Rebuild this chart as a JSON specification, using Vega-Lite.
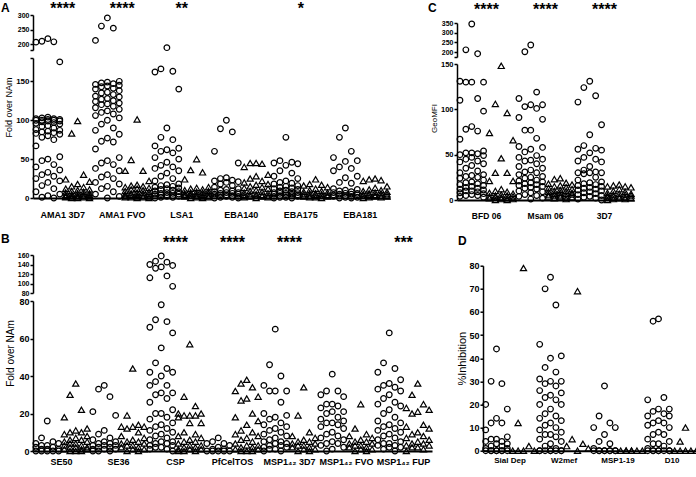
{
"$schema":"https://vega.github.io/schema/vega-lite/v6.json",
"background":"white",
"padding":{"left":1,"top":0,"right":0,"bottom":0},
"config":{
 "view":{"stroke":null},
 "font":"Liberation Sans",
 "axis":{"grid":false,"domainColor":"black","tickColor":"black","labelColor":"black","titleColor":"black","labelFont":"Liberation Sans","titleFont":"Liberation Sans","labelFontWeight":"bold","titleFontWeight":"normal"},
 "title":{"font":"Liberation Sans","fontSize":12,"fontWeight":"bold","color":"black","anchor":"start","frame":"group","baseline":"alphabetic"},
 "point":{"filled":false,"color":"black","strokeWidth":1.2,"opacity":1},
 "text":{"color":"black","font":"Liberation Sans","fontSize":16,"fontWeight":"bold","baseline":"alphabetic"}
},
"datasets":{
"A":[
{"x":1,"g":"c","v":219},{"x":1,"g":"c","v":210},{"x":1,"g":"c","v":208},{"x":1,"g":"c","v":207},{"x":1,"g":"c","v":175},{"x":1,"g":"c","v":104},{"x":1,"g":"c","v":103},{"x":1,"g":"c","v":102},{"x":1,"g":"c","v":102},{"x":1,"g":"c","v":101},{"x":1,"g":"c","v":101},{"x":1,"g":"c","v":100},{"x":1,"g":"c","v":100},{"x":1,"g":"c","v":100},{"x":1,"g":"c","v":99},{"x":1,"g":"c","v":99},{"x":1,"g":"c","v":98},{"x":1,"g":"c","v":97},{"x":1,"g":"c","v":96},{"x":1,"g":"c","v":95},{"x":1,"g":"c","v":93},{"x":1,"g":"c","v":92},{"x":1,"g":"c","v":90},{"x":1,"g":"c","v":88},{"x":1,"g":"c","v":87},{"x":1,"g":"c","v":86},{"x":1,"g":"c","v":85},{"x":1,"g":"c","v":84},{"x":1,"g":"c","v":83},{"x":1,"g":"c","v":82},{"x":1,"g":"c","v":80},{"x":1,"g":"c","v":78},{"x":1,"g":"c","v":75},{"x":1,"g":"c","v":67},{"x":1,"g":"c","v":53},{"x":1,"g":"c","v":50},{"x":1,"g":"c","v":48},{"x":1,"g":"c","v":43},{"x":1,"g":"c","v":40},{"x":1,"g":"c","v":36},{"x":1,"g":"c","v":33},{"x":1,"g":"c","v":30},{"x":1,"g":"c","v":28},{"x":1,"g":"c","v":25},{"x":1,"g":"c","v":22},{"x":1,"g":"c","v":20},{"x":1,"g":"c","v":16},{"x":1,"g":"c","v":12},{"x":1,"g":"c","v":8},{"x":1,"g":"c","v":5},{"x":1,"g":"c","v":3},{"x":1,"g":"c","v":1},{"x":1,"g":"c","v":0},
{"x":1,"g":"t","v":99},{"x":1,"g":"t","v":83},{"x":1,"g":"t","v":30},{"x":1,"g":"t","v":24},{"x":1,"g":"t","v":21},{"x":1,"g":"t","v":18},{"x":1,"g":"t","v":15},{"x":1,"g":"t","v":14},{"x":1,"g":"t","v":12},{"x":1,"g":"t","v":11},{"x":1,"g":"t","v":10},{"x":1,"g":"t","v":9},{"x":1,"g":"t","v":8},{"x":1,"g":"t","v":7},{"x":1,"g":"t","v":6},{"x":1,"g":"t","v":6},{"x":1,"g":"t","v":5},{"x":1,"g":"t","v":5},{"x":1,"g":"t","v":4},{"x":1,"g":"t","v":4},{"x":1,"g":"t","v":3},{"x":1,"g":"t","v":3},{"x":1,"g":"t","v":3},{"x":1,"g":"t","v":2},{"x":1,"g":"t","v":2},{"x":1,"g":"t","v":2},{"x":1,"g":"t","v":1},{"x":1,"g":"t","v":1},{"x":1,"g":"t","v":1},{"x":1,"g":"t","v":0},{"x":1,"g":"t","v":0},{"x":1,"g":"t","v":0},
{"x":2,"g":"c","v":290},{"x":2,"g":"c","v":262},{"x":2,"g":"c","v":255},{"x":2,"g":"c","v":213},{"x":2,"g":"c","v":150},{"x":2,"g":"c","v":149},{"x":2,"g":"c","v":148},{"x":2,"g":"c","v":147},{"x":2,"g":"c","v":146},{"x":2,"g":"c","v":145},{"x":2,"g":"c","v":144},{"x":2,"g":"c","v":143},{"x":2,"g":"c","v":141},{"x":2,"g":"c","v":140},{"x":2,"g":"c","v":138},{"x":2,"g":"c","v":136},{"x":2,"g":"c","v":135},{"x":2,"g":"c","v":133},{"x":2,"g":"c","v":131},{"x":2,"g":"c","v":130},{"x":2,"g":"c","v":128},{"x":2,"g":"c","v":127},{"x":2,"g":"c","v":125},{"x":2,"g":"c","v":124},{"x":2,"g":"c","v":122},{"x":2,"g":"c","v":121},{"x":2,"g":"c","v":120},{"x":2,"g":"c","v":118},{"x":2,"g":"c","v":116},{"x":2,"g":"c","v":114},{"x":2,"g":"c","v":112},{"x":2,"g":"c","v":110},{"x":2,"g":"c","v":108},{"x":2,"g":"c","v":106},{"x":2,"g":"c","v":103},{"x":2,"g":"c","v":100},{"x":2,"g":"c","v":95},{"x":2,"g":"c","v":90},{"x":2,"g":"c","v":87},{"x":2,"g":"c","v":82},{"x":2,"g":"c","v":77},{"x":2,"g":"c","v":73},{"x":2,"g":"c","v":72},{"x":2,"g":"c","v":63},{"x":2,"g":"c","v":52},{"x":2,"g":"c","v":48},{"x":2,"g":"c","v":45},{"x":2,"g":"c","v":43},{"x":2,"g":"c","v":38},{"x":2,"g":"c","v":35},{"x":2,"g":"c","v":30},{"x":2,"g":"c","v":27},{"x":2,"g":"c","v":25},{"x":2,"g":"c","v":20},{"x":2,"g":"c","v":18},{"x":2,"g":"c","v":15},{"x":2,"g":"c","v":12},{"x":2,"g":"c","v":8},{"x":2,"g":"c","v":5},{"x":2,"g":"c","v":2},{"x":2,"g":"c","v":0},
{"x":2,"g":"t","v":101},{"x":2,"g":"t","v":49},{"x":2,"g":"t","v":35},{"x":2,"g":"t","v":35},{"x":2,"g":"t","v":22},{"x":2,"g":"t","v":17},{"x":2,"g":"t","v":16},{"x":2,"g":"t","v":15},{"x":2,"g":"t","v":14},{"x":2,"g":"t","v":13},{"x":2,"g":"t","v":12},{"x":2,"g":"t","v":11},{"x":2,"g":"t","v":10},{"x":2,"g":"t","v":9},{"x":2,"g":"t","v":8},{"x":2,"g":"t","v":7},{"x":2,"g":"t","v":6},{"x":2,"g":"t","v":6},{"x":2,"g":"t","v":5},{"x":2,"g":"t","v":5},{"x":2,"g":"t","v":4},{"x":2,"g":"t","v":4},{"x":2,"g":"t","v":3},{"x":2,"g":"t","v":3},{"x":2,"g":"t","v":2},{"x":2,"g":"t","v":2},{"x":2,"g":"t","v":1},{"x":2,"g":"t","v":1},{"x":2,"g":"t","v":1},{"x":2,"g":"t","v":0},{"x":2,"g":"t","v":0},
{"x":3,"g":"c","v":188},{"x":3,"g":"c","v":166},{"x":3,"g":"c","v":163},{"x":3,"g":"c","v":162},{"x":3,"g":"c","v":140},{"x":3,"g":"c","v":90},{"x":3,"g":"c","v":78},{"x":3,"g":"c","v":75},{"x":3,"g":"c","v":67},{"x":3,"g":"c","v":64},{"x":3,"g":"c","v":62},{"x":3,"g":"c","v":60},{"x":3,"g":"c","v":58},{"x":3,"g":"c","v":52},{"x":3,"g":"c","v":50},{"x":3,"g":"c","v":46},{"x":3,"g":"c","v":42},{"x":3,"g":"c","v":40},{"x":3,"g":"c","v":38},{"x":3,"g":"c","v":35},{"x":3,"g":"c","v":32},{"x":3,"g":"c","v":28},{"x":3,"g":"c","v":25},{"x":3,"g":"c","v":22},{"x":3,"g":"c","v":18},{"x":3,"g":"c","v":17},{"x":3,"g":"c","v":16},{"x":3,"g":"c","v":15},{"x":3,"g":"c","v":14},{"x":3,"g":"c","v":13},{"x":3,"g":"c","v":12},{"x":3,"g":"c","v":11},{"x":3,"g":"c","v":10},{"x":3,"g":"c","v":9},{"x":3,"g":"c","v":8},{"x":3,"g":"c","v":7},{"x":3,"g":"c","v":6},{"x":3,"g":"c","v":6},{"x":3,"g":"c","v":5},{"x":3,"g":"c","v":5},{"x":3,"g":"c","v":4},{"x":3,"g":"c","v":4},{"x":3,"g":"c","v":3},{"x":3,"g":"c","v":3},{"x":3,"g":"c","v":2},{"x":3,"g":"c","v":2},{"x":3,"g":"c","v":1},{"x":3,"g":"c","v":1},{"x":3,"g":"c","v":0},
{"x":3,"g":"t","v":50},{"x":3,"g":"t","v":36},{"x":3,"g":"t","v":33},{"x":3,"g":"t","v":24},{"x":3,"g":"t","v":14},{"x":3,"g":"t","v":13},{"x":3,"g":"t","v":12},{"x":3,"g":"t","v":11},{"x":3,"g":"t","v":10},{"x":3,"g":"t","v":9},{"x":3,"g":"t","v":8},{"x":3,"g":"t","v":7},{"x":3,"g":"t","v":7},{"x":3,"g":"t","v":6},{"x":3,"g":"t","v":6},{"x":3,"g":"t","v":5},{"x":3,"g":"t","v":5},{"x":3,"g":"t","v":4},{"x":3,"g":"t","v":4},{"x":3,"g":"t","v":3},{"x":3,"g":"t","v":3},{"x":3,"g":"t","v":3},{"x":3,"g":"t","v":2},{"x":3,"g":"t","v":2},{"x":3,"g":"t","v":1},{"x":3,"g":"t","v":1},{"x":3,"g":"t","v":0},{"x":3,"g":"t","v":0},
{"x":4,"g":"c","v":100},{"x":4,"g":"c","v":89},{"x":4,"g":"c","v":85},{"x":4,"g":"c","v":60},{"x":4,"g":"c","v":45},{"x":4,"g":"c","v":26},{"x":4,"g":"c","v":25},{"x":4,"g":"c","v":23},{"x":4,"g":"c","v":22},{"x":4,"g":"c","v":21},{"x":4,"g":"c","v":20},{"x":4,"g":"c","v":18},{"x":4,"g":"c","v":16},{"x":4,"g":"c","v":14},{"x":4,"g":"c","v":12},{"x":4,"g":"c","v":11},{"x":4,"g":"c","v":10},{"x":4,"g":"c","v":9},{"x":4,"g":"c","v":8},{"x":4,"g":"c","v":7},{"x":4,"g":"c","v":7},{"x":4,"g":"c","v":6},{"x":4,"g":"c","v":6},{"x":4,"g":"c","v":5},{"x":4,"g":"c","v":5},{"x":4,"g":"c","v":4},{"x":4,"g":"c","v":4},{"x":4,"g":"c","v":3},{"x":4,"g":"c","v":3},{"x":4,"g":"c","v":2},{"x":4,"g":"c","v":2},{"x":4,"g":"c","v":1},{"x":4,"g":"c","v":1},{"x":4,"g":"c","v":0},{"x":4,"g":"c","v":0},
{"x":4,"g":"t","v":45},{"x":4,"g":"t","v":45},{"x":4,"g":"t","v":44},{"x":4,"g":"t","v":40},{"x":4,"g":"t","v":30},{"x":4,"g":"t","v":28},{"x":4,"g":"t","v":25},{"x":4,"g":"t","v":22},{"x":4,"g":"t","v":20},{"x":4,"g":"t","v":18},{"x":4,"g":"t","v":17},{"x":4,"g":"t","v":15},{"x":4,"g":"t","v":14},{"x":4,"g":"t","v":13},{"x":4,"g":"t","v":12},{"x":4,"g":"t","v":10},{"x":4,"g":"t","v":9},{"x":4,"g":"t","v":8},{"x":4,"g":"t","v":7},{"x":4,"g":"t","v":6},{"x":4,"g":"t","v":5},{"x":4,"g":"t","v":5},{"x":4,"g":"t","v":4},{"x":4,"g":"t","v":4},{"x":4,"g":"t","v":3},{"x":4,"g":"t","v":3},{"x":4,"g":"t","v":2},{"x":4,"g":"t","v":2},{"x":4,"g":"t","v":1},{"x":4,"g":"t","v":1},{"x":4,"g":"t","v":0},
{"x":5,"g":"c","v":78},{"x":5,"g":"c","v":48},{"x":5,"g":"c","v":46},{"x":5,"g":"c","v":45},{"x":5,"g":"c","v":44},{"x":5,"g":"c","v":42},{"x":5,"g":"c","v":35},{"x":5,"g":"c","v":32},{"x":5,"g":"c","v":28},{"x":5,"g":"c","v":25},{"x":5,"g":"c","v":22},{"x":5,"g":"c","v":20},{"x":5,"g":"c","v":19},{"x":5,"g":"c","v":18},{"x":5,"g":"c","v":16},{"x":5,"g":"c","v":15},{"x":5,"g":"c","v":14},{"x":5,"g":"c","v":13},{"x":5,"g":"c","v":12},{"x":5,"g":"c","v":11},{"x":5,"g":"c","v":10},{"x":5,"g":"c","v":9},{"x":5,"g":"c","v":8},{"x":5,"g":"c","v":7},{"x":5,"g":"c","v":7},{"x":5,"g":"c","v":6},{"x":5,"g":"c","v":6},{"x":5,"g":"c","v":5},{"x":5,"g":"c","v":5},{"x":5,"g":"c","v":4},{"x":5,"g":"c","v":4},{"x":5,"g":"c","v":3},{"x":5,"g":"c","v":3},{"x":5,"g":"c","v":2},{"x":5,"g":"c","v":2},{"x":5,"g":"c","v":1},{"x":5,"g":"c","v":1},{"x":5,"g":"c","v":0},{"x":5,"g":"c","v":0},
{"x":5,"g":"t","v":24},{"x":5,"g":"t","v":18},{"x":5,"g":"t","v":17},{"x":5,"g":"t","v":16},{"x":5,"g":"t","v":14},{"x":5,"g":"t","v":12},{"x":5,"g":"t","v":10},{"x":5,"g":"t","v":9},{"x":5,"g":"t","v":8},{"x":5,"g":"t","v":7},{"x":5,"g":"t","v":6},{"x":5,"g":"t","v":6},{"x":5,"g":"t","v":5},{"x":5,"g":"t","v":5},{"x":5,"g":"t","v":4},{"x":5,"g":"t","v":4},{"x":5,"g":"t","v":3},{"x":5,"g":"t","v":3},{"x":5,"g":"t","v":2},{"x":5,"g":"t","v":2},{"x":5,"g":"t","v":1},{"x":5,"g":"t","v":1},{"x":5,"g":"t","v":0},
{"x":6,"g":"c","v":90},{"x":6,"g":"c","v":78},{"x":6,"g":"c","v":60},{"x":6,"g":"c","v":52},{"x":6,"g":"c","v":48},{"x":6,"g":"c","v":47},{"x":6,"g":"c","v":40},{"x":6,"g":"c","v":38},{"x":6,"g":"c","v":35},{"x":6,"g":"c","v":28},{"x":6,"g":"c","v":26},{"x":6,"g":"c","v":20},{"x":6,"g":"c","v":19},{"x":6,"g":"c","v":12},{"x":6,"g":"c","v":11},{"x":6,"g":"c","v":10},{"x":6,"g":"c","v":9},{"x":6,"g":"c","v":8},{"x":6,"g":"c","v":7},{"x":6,"g":"c","v":6},{"x":6,"g":"c","v":6},{"x":6,"g":"c","v":5},{"x":6,"g":"c","v":5},{"x":6,"g":"c","v":4},{"x":6,"g":"c","v":4},{"x":6,"g":"c","v":3},{"x":6,"g":"c","v":3},{"x":6,"g":"c","v":2},{"x":6,"g":"c","v":2},{"x":6,"g":"c","v":1},{"x":6,"g":"c","v":1},{"x":6,"g":"c","v":0},{"x":6,"g":"c","v":0},
{"x":6,"g":"t","v":25},{"x":6,"g":"t","v":24},{"x":6,"g":"t","v":23},{"x":6,"g":"t","v":22},{"x":6,"g":"t","v":15},{"x":6,"g":"t","v":13},{"x":6,"g":"t","v":11},{"x":6,"g":"t","v":10},{"x":6,"g":"t","v":9},{"x":6,"g":"t","v":8},{"x":6,"g":"t","v":7},{"x":6,"g":"t","v":6},{"x":6,"g":"t","v":6},{"x":6,"g":"t","v":5},{"x":6,"g":"t","v":5},{"x":6,"g":"t","v":4},{"x":6,"g":"t","v":4},{"x":6,"g":"t","v":3},{"x":6,"g":"t","v":3},{"x":6,"g":"t","v":2},{"x":6,"g":"t","v":2},{"x":6,"g":"t","v":1},{"x":6,"g":"t","v":1},{"x":6,"g":"t","v":0}
],
"B":[
{"x":1,"g":"c","v":16},{"x":1,"g":"c","v":7},{"x":1,"g":"c","v":5},{"x":1,"g":"c","v":4},{"x":1,"g":"c","v":4},{"x":1,"g":"c","v":3},{"x":1,"g":"c","v":3},{"x":1,"g":"c","v":2},{"x":1,"g":"c","v":2},{"x":1,"g":"c","v":1},{"x":1,"g":"c","v":1},{"x":1,"g":"c","v":1},{"x":1,"g":"c","v":0},{"x":1,"g":"c","v":0},{"x":1,"g":"c","v":0},{"x":1,"g":"c","v":0},{"x":1,"g":"c","v":0},
{"x":1,"g":"t","v":36},{"x":1,"g":"t","v":30},{"x":1,"g":"t","v":22},{"x":1,"g":"t","v":18},{"x":1,"g":"t","v":12},{"x":1,"g":"t","v":11},{"x":1,"g":"t","v":10},{"x":1,"g":"t","v":10},{"x":1,"g":"t","v":9},{"x":1,"g":"t","v":8},{"x":1,"g":"t","v":7},{"x":1,"g":"t","v":6},{"x":1,"g":"t","v":6},{"x":1,"g":"t","v":5},{"x":1,"g":"t","v":5},{"x":1,"g":"t","v":4},{"x":1,"g":"t","v":4},{"x":1,"g":"t","v":3},{"x":1,"g":"t","v":3},{"x":1,"g":"t","v":2},{"x":1,"g":"t","v":2},{"x":1,"g":"t","v":2},{"x":1,"g":"t","v":1},{"x":1,"g":"t","v":1},{"x":1,"g":"t","v":1},{"x":1,"g":"t","v":0},{"x":1,"g":"t","v":0},{"x":1,"g":"t","v":0},
{"x":2,"g":"c","v":35},{"x":2,"g":"c","v":33},{"x":2,"g":"c","v":29},{"x":2,"g":"c","v":21},{"x":2,"g":"c","v":19},{"x":2,"g":"c","v":11},{"x":2,"g":"c","v":9},{"x":2,"g":"c","v":7},{"x":2,"g":"c","v":6},{"x":2,"g":"c","v":5},{"x":2,"g":"c","v":5},{"x":2,"g":"c","v":4},{"x":2,"g":"c","v":4},{"x":2,"g":"c","v":3},{"x":2,"g":"c","v":3},{"x":2,"g":"c","v":3},{"x":2,"g":"c","v":2},{"x":2,"g":"c","v":2},{"x":2,"g":"c","v":1},{"x":2,"g":"c","v":1},{"x":2,"g":"c","v":1},{"x":2,"g":"c","v":0},{"x":2,"g":"c","v":0},{"x":2,"g":"c","v":0},
{"x":2,"g":"t","v":44},{"x":2,"g":"t","v":19},{"x":2,"g":"t","v":14},{"x":2,"g":"t","v":13},{"x":2,"g":"t","v":13},{"x":2,"g":"t","v":13},{"x":2,"g":"t","v":12},{"x":2,"g":"t","v":10},{"x":2,"g":"t","v":8},{"x":2,"g":"t","v":7},{"x":2,"g":"t","v":6},{"x":2,"g":"t","v":5},{"x":2,"g":"t","v":5},{"x":2,"g":"t","v":4},{"x":2,"g":"t","v":4},{"x":2,"g":"t","v":3},{"x":2,"g":"t","v":3},{"x":2,"g":"t","v":2},{"x":2,"g":"t","v":2},{"x":2,"g":"t","v":1},{"x":2,"g":"t","v":1},{"x":2,"g":"t","v":0},{"x":2,"g":"t","v":0},
{"x":3,"g":"c","v":158},{"x":3,"g":"c","v":147},{"x":3,"g":"c","v":145},{"x":3,"g":"c","v":140},{"x":3,"g":"c","v":138},{"x":3,"g":"c","v":135},{"x":3,"g":"c","v":132},{"x":3,"g":"c","v":116},{"x":3,"g":"c","v":112},{"x":3,"g":"c","v":94},{"x":3,"g":"c","v":78},{"x":3,"g":"c","v":70},{"x":3,"g":"c","v":69},{"x":3,"g":"c","v":66},{"x":3,"g":"c","v":63},{"x":3,"g":"c","v":55},{"x":3,"g":"c","v":47},{"x":3,"g":"c","v":44},{"x":3,"g":"c","v":42},{"x":3,"g":"c","v":42},{"x":3,"g":"c","v":40},{"x":3,"g":"c","v":37},{"x":3,"g":"c","v":35},{"x":3,"g":"c","v":35},{"x":3,"g":"c","v":31},{"x":3,"g":"c","v":31},{"x":3,"g":"c","v":30},{"x":3,"g":"c","v":28},{"x":3,"g":"c","v":26},{"x":3,"g":"c","v":22},{"x":3,"g":"c","v":20},{"x":3,"g":"c","v":20},{"x":3,"g":"c","v":18},{"x":3,"g":"c","v":17},{"x":3,"g":"c","v":15},{"x":3,"g":"c","v":14},{"x":3,"g":"c","v":13},{"x":3,"g":"c","v":12},{"x":3,"g":"c","v":11},{"x":3,"g":"c","v":10},{"x":3,"g":"c","v":9},{"x":3,"g":"c","v":8},{"x":3,"g":"c","v":7},{"x":3,"g":"c","v":6},{"x":3,"g":"c","v":5},{"x":3,"g":"c","v":5},{"x":3,"g":"c","v":4},{"x":3,"g":"c","v":4},{"x":3,"g":"c","v":3},{"x":3,"g":"c","v":3},{"x":3,"g":"c","v":2},{"x":3,"g":"c","v":2},{"x":3,"g":"c","v":1},{"x":3,"g":"c","v":1},{"x":3,"g":"c","v":0},
{"x":3,"g":"t","v":57},{"x":3,"g":"t","v":29},{"x":3,"g":"t","v":24},{"x":3,"g":"t","v":20},{"x":3,"g":"t","v":20},{"x":3,"g":"t","v":19},{"x":3,"g":"t","v":19},{"x":3,"g":"t","v":19},{"x":3,"g":"t","v":18},{"x":3,"g":"t","v":15},{"x":3,"g":"t","v":15},{"x":3,"g":"t","v":10},{"x":3,"g":"t","v":9},{"x":3,"g":"t","v":8},{"x":3,"g":"t","v":7},{"x":3,"g":"t","v":6},{"x":3,"g":"t","v":5},{"x":3,"g":"t","v":5},{"x":3,"g":"t","v":4},{"x":3,"g":"t","v":3},{"x":3,"g":"t","v":3},{"x":3,"g":"t","v":2},{"x":3,"g":"t","v":2},{"x":3,"g":"t","v":1},{"x":3,"g":"t","v":1},{"x":3,"g":"t","v":1},{"x":3,"g":"t","v":0},{"x":3,"g":"t","v":0},{"x":3,"g":"t","v":0},
{"x":4,"g":"c","v":7},{"x":4,"g":"c","v":5},{"x":4,"g":"c","v":4},{"x":4,"g":"c","v":4},{"x":4,"g":"c","v":3},{"x":4,"g":"c","v":2},{"x":4,"g":"c","v":1},{"x":4,"g":"c","v":1},{"x":4,"g":"c","v":0},{"x":4,"g":"c","v":0},{"x":4,"g":"c","v":0},{"x":4,"g":"c","v":0},{"x":4,"g":"c","v":0},
{"x":4,"g":"t","v":38},{"x":4,"g":"t","v":36},{"x":4,"g":"t","v":34},{"x":4,"g":"t","v":32},{"x":4,"g":"t","v":29},{"x":4,"g":"t","v":28},{"x":4,"g":"t","v":27},{"x":4,"g":"t","v":20},{"x":4,"g":"t","v":18},{"x":4,"g":"t","v":16},{"x":4,"g":"t","v":14},{"x":4,"g":"t","v":11},{"x":4,"g":"t","v":10},{"x":4,"g":"t","v":9},{"x":4,"g":"t","v":8},{"x":4,"g":"t","v":7},{"x":4,"g":"t","v":6},{"x":4,"g":"t","v":5},{"x":4,"g":"t","v":4},{"x":4,"g":"t","v":3},{"x":4,"g":"t","v":3},{"x":4,"g":"t","v":2},{"x":4,"g":"t","v":2},{"x":4,"g":"t","v":1},{"x":4,"g":"t","v":1},{"x":4,"g":"t","v":0},{"x":4,"g":"t","v":0},{"x":4,"g":"t","v":0},
{"x":5,"g":"c","v":65},{"x":5,"g":"c","v":46},{"x":5,"g":"c","v":40},{"x":5,"g":"c","v":35},{"x":5,"g":"c","v":32},{"x":5,"g":"c","v":32},{"x":5,"g":"c","v":32},{"x":5,"g":"c","v":26},{"x":5,"g":"c","v":20},{"x":5,"g":"c","v":19},{"x":5,"g":"c","v":18},{"x":5,"g":"c","v":17},{"x":5,"g":"c","v":15},{"x":5,"g":"c","v":14},{"x":5,"g":"c","v":13},{"x":5,"g":"c","v":12},{"x":5,"g":"c","v":11},{"x":5,"g":"c","v":10},{"x":5,"g":"c","v":9},{"x":5,"g":"c","v":8},{"x":5,"g":"c","v":7},{"x":5,"g":"c","v":6},{"x":5,"g":"c","v":5},{"x":5,"g":"c","v":5},{"x":5,"g":"c","v":4},{"x":5,"g":"c","v":4},{"x":5,"g":"c","v":3},{"x":5,"g":"c","v":3},{"x":5,"g":"c","v":2},{"x":5,"g":"c","v":2},{"x":5,"g":"c","v":1},{"x":5,"g":"c","v":1},{"x":5,"g":"c","v":0},{"x":5,"g":"c","v":0},
{"x":5,"g":"t","v":34},{"x":5,"g":"t","v":19},{"x":5,"g":"t","v":10},{"x":5,"g":"t","v":8},{"x":5,"g":"t","v":7},{"x":5,"g":"t","v":6},{"x":5,"g":"t","v":5},{"x":5,"g":"t","v":5},{"x":5,"g":"t","v":4},{"x":5,"g":"t","v":4},{"x":5,"g":"t","v":3},{"x":5,"g":"t","v":3},{"x":5,"g":"t","v":2},{"x":5,"g":"t","v":2},{"x":5,"g":"t","v":1},{"x":5,"g":"t","v":1},{"x":5,"g":"t","v":0},{"x":5,"g":"t","v":0},
{"x":6,"g":"c","v":41},{"x":6,"g":"c","v":32},{"x":6,"g":"c","v":32},{"x":6,"g":"c","v":30},{"x":6,"g":"c","v":29},{"x":6,"g":"c","v":25},{"x":6,"g":"c","v":25},{"x":6,"g":"c","v":24},{"x":6,"g":"c","v":23},{"x":6,"g":"c","v":21},{"x":6,"g":"c","v":21},{"x":6,"g":"c","v":20},{"x":6,"g":"c","v":18},{"x":6,"g":"c","v":17},{"x":6,"g":"c","v":16},{"x":6,"g":"c","v":15},{"x":6,"g":"c","v":15},{"x":6,"g":"c","v":14},{"x":6,"g":"c","v":13},{"x":6,"g":"c","v":12},{"x":6,"g":"c","v":10},{"x":6,"g":"c","v":9},{"x":6,"g":"c","v":8},{"x":6,"g":"c","v":7},{"x":6,"g":"c","v":6},{"x":6,"g":"c","v":5},{"x":6,"g":"c","v":4},{"x":6,"g":"c","v":4},{"x":6,"g":"c","v":3},{"x":6,"g":"c","v":2},{"x":6,"g":"c","v":1},{"x":6,"g":"c","v":0},
{"x":6,"g":"t","v":25},{"x":6,"g":"t","v":12},{"x":6,"g":"t","v":9},{"x":6,"g":"t","v":8},{"x":6,"g":"t","v":7},{"x":6,"g":"t","v":6},{"x":6,"g":"t","v":5},{"x":6,"g":"t","v":5},{"x":6,"g":"t","v":4},{"x":6,"g":"t","v":4},{"x":6,"g":"t","v":3},{"x":6,"g":"t","v":3},{"x":6,"g":"t","v":2},{"x":6,"g":"t","v":2},{"x":6,"g":"t","v":1},{"x":6,"g":"t","v":1},{"x":6,"g":"t","v":0},{"x":6,"g":"t","v":0},
{"x":7,"g":"c","v":63},{"x":7,"g":"c","v":47},{"x":7,"g":"c","v":44},{"x":7,"g":"c","v":42},{"x":7,"g":"c","v":38},{"x":7,"g":"c","v":36},{"x":7,"g":"c","v":35},{"x":7,"g":"c","v":34},{"x":7,"g":"c","v":33},{"x":7,"g":"c","v":32},{"x":7,"g":"c","v":30},{"x":7,"g":"c","v":28},{"x":7,"g":"c","v":26},{"x":7,"g":"c","v":25},{"x":7,"g":"c","v":24},{"x":7,"g":"c","v":22},{"x":7,"g":"c","v":20},{"x":7,"g":"c","v":18},{"x":7,"g":"c","v":16},{"x":7,"g":"c","v":15},{"x":7,"g":"c","v":14},{"x":7,"g":"c","v":13},{"x":7,"g":"c","v":12},{"x":7,"g":"c","v":11},{"x":7,"g":"c","v":10},{"x":7,"g":"c","v":9},{"x":7,"g":"c","v":8},{"x":7,"g":"c","v":7},{"x":7,"g":"c","v":6},{"x":7,"g":"c","v":5},{"x":7,"g":"c","v":4},{"x":7,"g":"c","v":4},{"x":7,"g":"c","v":3},{"x":7,"g":"c","v":3},{"x":7,"g":"c","v":2},{"x":7,"g":"c","v":2},{"x":7,"g":"c","v":1},{"x":7,"g":"c","v":0},
{"x":7,"g":"t","v":36},{"x":7,"g":"t","v":30},{"x":7,"g":"t","v":25},{"x":7,"g":"t","v":23},{"x":7,"g":"t","v":22},{"x":7,"g":"t","v":21},{"x":7,"g":"t","v":20},{"x":7,"g":"t","v":14},{"x":7,"g":"t","v":13},{"x":7,"g":"t","v":12},{"x":7,"g":"t","v":10},{"x":7,"g":"t","v":9},{"x":7,"g":"t","v":8},{"x":7,"g":"t","v":7},{"x":7,"g":"t","v":6},{"x":7,"g":"t","v":5},{"x":7,"g":"t","v":4},{"x":7,"g":"t","v":4},{"x":7,"g":"t","v":3},{"x":7,"g":"t","v":3},{"x":7,"g":"t","v":2},{"x":7,"g":"t","v":2},{"x":7,"g":"t","v":1},{"x":7,"g":"t","v":0}
],
"C":[
{"x":1,"g":"c","v":345},{"x":1,"g":"c","v":212},{"x":1,"g":"c","v":192},{"x":1,"g":"c","v":131},{"x":1,"g":"c","v":130},{"x":1,"g":"c","v":130},{"x":1,"g":"c","v":130},{"x":1,"g":"c","v":112},{"x":1,"g":"c","v":110},{"x":1,"g":"c","v":98},{"x":1,"g":"c","v":81},{"x":1,"g":"c","v":78},{"x":1,"g":"c","v":76},{"x":1,"g":"c","v":67},{"x":1,"g":"c","v":54},{"x":1,"g":"c","v":52},{"x":1,"g":"c","v":52},{"x":1,"g":"c","v":51},{"x":1,"g":"c","v":50},{"x":1,"g":"c","v":49},{"x":1,"g":"c","v":47},{"x":1,"g":"c","v":45},{"x":1,"g":"c","v":43},{"x":1,"g":"c","v":42},{"x":1,"g":"c","v":40},{"x":1,"g":"c","v":38},{"x":1,"g":"c","v":35},{"x":1,"g":"c","v":32},{"x":1,"g":"c","v":30},{"x":1,"g":"c","v":28},{"x":1,"g":"c","v":27},{"x":1,"g":"c","v":26},{"x":1,"g":"c","v":25},{"x":1,"g":"c","v":24},{"x":1,"g":"c","v":22},{"x":1,"g":"c","v":20},{"x":1,"g":"c","v":19},{"x":1,"g":"c","v":18},{"x":1,"g":"c","v":17},{"x":1,"g":"c","v":16},{"x":1,"g":"c","v":15},{"x":1,"g":"c","v":14},{"x":1,"g":"c","v":13},{"x":1,"g":"c","v":12},{"x":1,"g":"c","v":11},{"x":1,"g":"c","v":10},{"x":1,"g":"c","v":10},{"x":1,"g":"c","v":9},{"x":1,"g":"c","v":8},{"x":1,"g":"c","v":7},{"x":1,"g":"c","v":6},{"x":1,"g":"c","v":5},{"x":1,"g":"c","v":5},{"x":1,"g":"c","v":4},{"x":1,"g":"c","v":3},
{"x":1,"g":"t","v":148},{"x":1,"g":"t","v":106},{"x":1,"g":"t","v":96},{"x":1,"g":"t","v":74},{"x":1,"g":"t","v":66},{"x":1,"g":"t","v":46},{"x":1,"g":"t","v":30},{"x":1,"g":"t","v":30},{"x":1,"g":"t","v":21},{"x":1,"g":"t","v":21},{"x":1,"g":"t","v":12},{"x":1,"g":"t","v":10},{"x":1,"g":"t","v":9},{"x":1,"g":"t","v":8},{"x":1,"g":"t","v":7},{"x":1,"g":"t","v":6},{"x":1,"g":"t","v":5},{"x":1,"g":"t","v":5},{"x":1,"g":"t","v":4},{"x":1,"g":"t","v":4},{"x":1,"g":"t","v":3},{"x":1,"g":"t","v":3},{"x":1,"g":"t","v":2},{"x":1,"g":"t","v":2},{"x":1,"g":"t","v":1},{"x":1,"g":"t","v":1},{"x":1,"g":"t","v":0},{"x":1,"g":"t","v":0},
{"x":2,"g":"c","v":237},{"x":2,"g":"c","v":202},{"x":2,"g":"c","v":119},{"x":2,"g":"c","v":112},{"x":2,"g":"c","v":105},{"x":2,"g":"c","v":105},{"x":2,"g":"c","v":103},{"x":2,"g":"c","v":101},{"x":2,"g":"c","v":91},{"x":2,"g":"c","v":89},{"x":2,"g":"c","v":77},{"x":2,"g":"c","v":77},{"x":2,"g":"c","v":68},{"x":2,"g":"c","v":59},{"x":2,"g":"c","v":58},{"x":2,"g":"c","v":56},{"x":2,"g":"c","v":53},{"x":2,"g":"c","v":49},{"x":2,"g":"c","v":47},{"x":2,"g":"c","v":45},{"x":2,"g":"c","v":44},{"x":2,"g":"c","v":43},{"x":2,"g":"c","v":40},{"x":2,"g":"c","v":37},{"x":2,"g":"c","v":35},{"x":2,"g":"c","v":33},{"x":2,"g":"c","v":31},{"x":2,"g":"c","v":30},{"x":2,"g":"c","v":28},{"x":2,"g":"c","v":26},{"x":2,"g":"c","v":25},{"x":2,"g":"c","v":24},{"x":2,"g":"c","v":22},{"x":2,"g":"c","v":21},{"x":2,"g":"c","v":20},{"x":2,"g":"c","v":19},{"x":2,"g":"c","v":18},{"x":2,"g":"c","v":17},{"x":2,"g":"c","v":16},{"x":2,"g":"c","v":15},{"x":2,"g":"c","v":14},{"x":2,"g":"c","v":13},{"x":2,"g":"c","v":12},{"x":2,"g":"c","v":10},{"x":2,"g":"c","v":9},{"x":2,"g":"c","v":8},{"x":2,"g":"c","v":6},{"x":2,"g":"c","v":5},{"x":2,"g":"c","v":4},{"x":2,"g":"c","v":2},{"x":2,"g":"c","v":1},
{"x":2,"g":"t","v":24},{"x":2,"g":"t","v":23},{"x":2,"g":"t","v":19},{"x":2,"g":"t","v":18},{"x":2,"g":"t","v":17},{"x":2,"g":"t","v":16},{"x":2,"g":"t","v":15},{"x":2,"g":"t","v":14},{"x":2,"g":"t","v":13},{"x":2,"g":"t","v":12},{"x":2,"g":"t","v":11},{"x":2,"g":"t","v":10},{"x":2,"g":"t","v":10},{"x":2,"g":"t","v":9},{"x":2,"g":"t","v":8},{"x":2,"g":"t","v":8},{"x":2,"g":"t","v":7},{"x":2,"g":"t","v":7},{"x":2,"g":"t","v":6},{"x":2,"g":"t","v":6},{"x":2,"g":"t","v":5},{"x":2,"g":"t","v":5},{"x":2,"g":"t","v":4},{"x":2,"g":"t","v":4},{"x":2,"g":"t","v":3},{"x":2,"g":"t","v":3},{"x":2,"g":"t","v":2},{"x":2,"g":"t","v":1},
{"x":3,"g":"c","v":131},{"x":3,"g":"c","v":124},{"x":3,"g":"c","v":115},{"x":3,"g":"c","v":108},{"x":3,"g":"c","v":83},{"x":3,"g":"c","v":72},{"x":3,"g":"c","v":60},{"x":3,"g":"c","v":57},{"x":3,"g":"c","v":56},{"x":3,"g":"c","v":55},{"x":3,"g":"c","v":52},{"x":3,"g":"c","v":47},{"x":3,"g":"c","v":45},{"x":3,"g":"c","v":43},{"x":3,"g":"c","v":42},{"x":3,"g":"c","v":37},{"x":3,"g":"c","v":33},{"x":3,"g":"c","v":31},{"x":3,"g":"c","v":30},{"x":3,"g":"c","v":30},{"x":3,"g":"c","v":30},{"x":3,"g":"c","v":29},{"x":3,"g":"c","v":25},{"x":3,"g":"c","v":22},{"x":3,"g":"c","v":20},{"x":3,"g":"c","v":19},{"x":3,"g":"c","v":18},{"x":3,"g":"c","v":17},{"x":3,"g":"c","v":16},{"x":3,"g":"c","v":15},{"x":3,"g":"c","v":14},{"x":3,"g":"c","v":13},{"x":3,"g":"c","v":12},{"x":3,"g":"c","v":11},{"x":3,"g":"c","v":10},{"x":3,"g":"c","v":9},{"x":3,"g":"c","v":8},{"x":3,"g":"c","v":7},{"x":3,"g":"c","v":6},{"x":3,"g":"c","v":5},{"x":3,"g":"c","v":4},{"x":3,"g":"c","v":3},{"x":3,"g":"c","v":2},{"x":3,"g":"c","v":1},{"x":3,"g":"c","v":0},
{"x":3,"g":"t","v":17},{"x":3,"g":"t","v":16},{"x":3,"g":"t","v":15},{"x":3,"g":"t","v":15},{"x":3,"g":"t","v":14},{"x":3,"g":"t","v":12},{"x":3,"g":"t","v":10},{"x":3,"g":"t","v":9},{"x":3,"g":"t","v":8},{"x":3,"g":"t","v":7},{"x":3,"g":"t","v":7},{"x":3,"g":"t","v":6},{"x":3,"g":"t","v":6},{"x":3,"g":"t","v":5},{"x":3,"g":"t","v":5},{"x":3,"g":"t","v":4},{"x":3,"g":"t","v":4},{"x":3,"g":"t","v":3},{"x":3,"g":"t","v":3},{"x":3,"g":"t","v":2},{"x":3,"g":"t","v":2},{"x":3,"g":"t","v":1},{"x":3,"g":"t","v":1},{"x":3,"g":"t","v":0}
],
"D":[
{"x":1,"g":"c","v":44},{"x":1,"g":"c","v":30},{"x":1,"g":"c","v":29},{"x":1,"g":"c","v":20},{"x":1,"g":"c","v":18},{"x":1,"g":"c","v":14},{"x":1,"g":"c","v":12},{"x":1,"g":"c","v":12},{"x":1,"g":"c","v":9},{"x":1,"g":"c","v":6},{"x":1,"g":"c","v":5},{"x":1,"g":"c","v":5},{"x":1,"g":"c","v":4},{"x":1,"g":"c","v":4},{"x":1,"g":"c","v":3},{"x":1,"g":"c","v":3},{"x":1,"g":"c","v":2},{"x":1,"g":"c","v":2},{"x":1,"g":"c","v":1},{"x":1,"g":"c","v":1},{"x":1,"g":"c","v":0},{"x":1,"g":"c","v":0},{"x":1,"g":"c","v":0},{"x":1,"g":"c","v":0},{"x":1,"g":"c","v":0},{"x":1,"g":"c","v":0},{"x":1,"g":"c","v":0},{"x":1,"g":"c","v":0},
{"x":1,"g":"t","v":79},{"x":1,"g":"t","v":12},{"x":1,"g":"t","v":2},{"x":1,"g":"t","v":0},{"x":1,"g":"t","v":0},{"x":1,"g":"t","v":0},{"x":1,"g":"t","v":0},
{"x":2,"g":"c","v":75},{"x":2,"g":"c","v":70},{"x":2,"g":"c","v":63},{"x":2,"g":"c","v":46},{"x":2,"g":"c","v":41},{"x":2,"g":"c","v":40},{"x":2,"g":"c","v":36},{"x":2,"g":"c","v":34},{"x":2,"g":"c","v":31},{"x":2,"g":"c","v":30},{"x":2,"g":"c","v":30},{"x":2,"g":"c","v":29},{"x":2,"g":"c","v":28},{"x":2,"g":"c","v":26},{"x":2,"g":"c","v":25},{"x":2,"g":"c","v":24},{"x":2,"g":"c","v":23},{"x":2,"g":"c","v":22},{"x":2,"g":"c","v":20},{"x":2,"g":"c","v":20},{"x":2,"g":"c","v":18},{"x":2,"g":"c","v":16},{"x":2,"g":"c","v":15},{"x":2,"g":"c","v":14},{"x":2,"g":"c","v":13},{"x":2,"g":"c","v":12},{"x":2,"g":"c","v":11},{"x":2,"g":"c","v":10},{"x":2,"g":"c","v":9},{"x":2,"g":"c","v":8},{"x":2,"g":"c","v":7},{"x":2,"g":"c","v":7},{"x":2,"g":"c","v":6},{"x":2,"g":"c","v":5},{"x":2,"g":"c","v":4},{"x":2,"g":"c","v":3},{"x":2,"g":"c","v":2},{"x":2,"g":"c","v":1},{"x":2,"g":"c","v":0},{"x":2,"g":"c","v":0},{"x":2,"g":"c","v":0},{"x":2,"g":"c","v":0},{"x":2,"g":"c","v":0},{"x":2,"g":"c","v":0},{"x":2,"g":"c","v":0},{"x":2,"g":"c","v":0},
{"x":2,"g":"t","v":69},{"x":2,"g":"t","v":5},{"x":2,"g":"t","v":3},{"x":2,"g":"t","v":2},{"x":2,"g":"t","v":1},{"x":2,"g":"t","v":0},
{"x":3,"g":"c","v":28},{"x":3,"g":"c","v":15},{"x":3,"g":"c","v":12},{"x":3,"g":"c","v":10},{"x":3,"g":"c","v":10},{"x":3,"g":"c","v":7},{"x":3,"g":"c","v":4},{"x":3,"g":"c","v":3},{"x":3,"g":"c","v":1},{"x":3,"g":"c","v":0},{"x":3,"g":"c","v":0},{"x":3,"g":"c","v":0},{"x":3,"g":"c","v":0},{"x":3,"g":"c","v":0},{"x":3,"g":"c","v":0},{"x":3,"g":"c","v":0},{"x":3,"g":"c","v":0},{"x":3,"g":"c","v":0},
{"x":3,"g":"t","v":0},{"x":3,"g":"t","v":0},{"x":3,"g":"t","v":0},{"x":3,"g":"t","v":0},{"x":3,"g":"t","v":0},{"x":3,"g":"t","v":0},{"x":3,"g":"t","v":0},
{"x":4,"g":"c","v":57},{"x":4,"g":"c","v":56},{"x":4,"g":"c","v":23},{"x":4,"g":"c","v":22},{"x":4,"g":"c","v":18},{"x":4,"g":"c","v":18},{"x":4,"g":"c","v":17},{"x":4,"g":"c","v":16},{"x":4,"g":"c","v":15},{"x":4,"g":"c","v":15},{"x":4,"g":"c","v":13},{"x":4,"g":"c","v":12},{"x":4,"g":"c","v":12},{"x":4,"g":"c","v":11},{"x":4,"g":"c","v":10},{"x":4,"g":"c","v":8},{"x":4,"g":"c","v":7},{"x":4,"g":"c","v":7},{"x":4,"g":"c","v":5},{"x":4,"g":"c","v":4},{"x":4,"g":"c","v":3},{"x":4,"g":"c","v":3},{"x":4,"g":"c","v":2},{"x":4,"g":"c","v":1},{"x":4,"g":"c","v":0},{"x":4,"g":"c","v":0},{"x":4,"g":"c","v":0},{"x":4,"g":"c","v":0},{"x":4,"g":"c","v":0},{"x":4,"g":"c","v":0},{"x":4,"g":"c","v":0},{"x":4,"g":"c","v":0},
{"x":4,"g":"t","v":10},{"x":4,"g":"t","v":4},{"x":4,"g":"t","v":0},{"x":4,"g":"t","v":0},{"x":4,"g":"t","v":0},{"x":4,"g":"t","v":0},{"x":4,"g":"t","v":0}
]
},
"vconcat":[
{"hconcat":[
 {"data":{"name":"A"},
  "transform":[
   {"window":[{"op":"row_number","as":"r"}],"groupby":["x","g"],"sort":[{"field":"v","order":"descending"}]},
   {"calculate":"datum.g + ((datum.r - 1) % 5)","as":"s"},
   {"lookup":"x","from":{"data":{"values":[{"x":1,"n":"AMA1 3D7"},{"x":2,"n":"AMA1 FVO"},{"x":3,"n":"LSA1"},{"x":4,"n":"EBA140"},{"x":5,"n":"EBA175"},{"x":6,"n":"EBA181"}]},"key":"x","fields":["n"]}}
  ],
  "vconcat":[
   {"title":{"text":"A","dx":-32,"offset":-14.8},
    "width":357,"height":35,
    "layer":[
     {"transform":[{"filter":"datum.v >= 180"}],
      "mark":{"type":"point"},
      "encoding":{
       "x":{"field":"n","type":"nominal","scale":{"type":"band","domain":["AMA1 3D7","AMA1 FVO","LSA1","EBA140","EBA175","EBA181"],"paddingInner":0,"paddingOuter":0},"axis":null},
       "xOffset":{"field":"s","type":"nominal","scale":{"domain":["c3","c1","c0","c2","c4","t3","t1","t0","t2","t4"],"paddingInner":0,"paddingOuter":0.5}},
       "y":{"field":"v","type":"quantitative","scale":{"domain":[180,300],"nice":false,"zero":false},"axis":{"values":[180,200,250,300],"labelExpr":"datum.value == 180 ? '' : datum.label","title":null,"labelFontSize":7,"tickSize":3,"tickWidth":1.5,"domainWidth":1.5,"labelPadding":1}},
       "shape":{"field":"g","type":"nominal","scale":{"domain":["c","t"],"range":["circle","triangle-up"]},"legend":null},
       "size":{"field":"g","type":"ordinal","scale":{"domain":["c","t"],"range":[32,38]},"legend":null}
      }},
     {"data":{"values":[{"n":"AMA1 3D7","t":"****"},{"n":"AMA1 FVO","t":"****"},{"n":"LSA1","t":"**"},{"n":"EBA175","t":"*"}]},
      "mark":{"type":"text"},
      "encoding":{"x":{"field":"n","type":"nominal","axis":null},"y":{"datum":305,"type":"quantitative","axis":{"values":[180,200,250,300],"labelExpr":"datum.value == 180 ? '' : datum.label","title":null,"labelFontSize":7,"tickSize":3,"tickWidth":1.5,"domainWidth":1.5,"labelPadding":1}},"text":{"field":"t"}}}
    ]},
   {"width":357,"height":140,
    "transform":[{"filter":"datum.v < 180"}],
    "mark":{"type":"point"},
    "encoding":{
     "x":{"field":"n","type":"nominal","scale":{"type":"band","domain":["AMA1 3D7","AMA1 FVO","LSA1","EBA140","EBA175","EBA181"],"paddingInner":0,"paddingOuter":0},"axis":{"title":null,"labelAngle":0,"ticks":false,"domainWidth":2,"labelFontSize":9,"labelPadding":12}},
     "xOffset":{"field":"s","type":"nominal","scale":{"domain":["c3","c1","c0","c2","c4","t3","t1","t0","t2","t4"],"paddingInner":0,"paddingOuter":0.5}},
     "y":{"field":"v","type":"quantitative","scale":{"domain":[0,180],"nice":false},"axis":{"values":[0,50,100,150,180],"labelExpr":"datum.value == 180 ? '' : datum.label","title":"Fold over NAm","titleFontSize":9,"titleY":49,"titlePadding":2,"labelFontSize":8,"tickSize":3,"tickWidth":1.5,"domainWidth":1.5,"labelPadding":1}},
     "shape":{"field":"g","type":"nominal","scale":{"domain":["c","t"],"range":["circle","triangle-up"]},"legend":null},
     "size":{"field":"g","type":"ordinal","scale":{"domain":["c","t"],"range":[32,38]},"legend":null}
    }}
  ],
  "spacing":8,"bounds":"flush",
  "resolve":{"scale":{"x":"independent","y":"independent","xOffset":"independent"}}
 },
 {"data":{"name":"C"},
  "transform":[
   {"window":[{"op":"row_number","as":"r"}],"groupby":["x","g"],"sort":[{"field":"v","order":"descending"}]},
   {"calculate":"datum.g + ((datum.r - 1) % 5)","as":"s"},
   {"lookup":"x","from":{"data":{"values":[{"x":1,"n":"BFD 06"},{"x":2,"n":"Msam 06"},{"x":3,"n":"3D7"}]},"key":"x","fields":["n"]}}
  ],
  "vconcat":[
   {"width":177,"height":0.5,
    "data":{"values":[{"k":1}]},
    "mark":{"type":"point","opacity":0,"size":1},
    "encoding":{}},
   {"title":{"text":"C","dx":-29,"offset":-13.3},
    "width":177,"height":34,
    "layer":[
     {"transform":[{"filter":"datum.v >= 175"}],
      "mark":{"type":"point"},
      "encoding":{
       "x":{"field":"n","type":"nominal","scale":{"type":"band","domain":["BFD 06","Msam 06","3D7"],"paddingInner":0,"paddingOuter":0},"axis":null},
       "xOffset":{"field":"s","type":"nominal","scale":{"domain":["c3","c1","c0","c2","c4","t3","t1","t0","t2","t4"],"paddingInner":0,"paddingOuter":0.5}},
       "y":{"field":"v","type":"quantitative","scale":{"domain":[175,350],"nice":false,"zero":false},"axis":{"values":[175,200,250,300,350],"labelExpr":"datum.value == 175 ? '' : datum.label","title":null,"labelFontSize":7,"tickSize":3,"tickWidth":1.5,"domainWidth":1.5,"labelPadding":1}},
       "shape":{"field":"g","type":"nominal","scale":{"domain":["c","t"],"range":["circle","triangle-up"]},"legend":null},
       "size":{"field":"g","type":"ordinal","scale":{"domain":["c","t"],"range":[30,36]},"legend":null}
      }},
     {"data":{"values":[{"n":"BFD 06","t":"****"},{"n":"Msam 06","t":"****"},{"n":"3D7","t":"****"}]},
      "mark":{"type":"text"},
      "encoding":{"x":{"field":"n","type":"nominal","axis":null},"y":{"datum":393,"type":"quantitative","axis":{"values":[175,200,250,300,350],"labelExpr":"datum.value == 175 ? '' : datum.label","title":null,"labelFontSize":7,"tickSize":3,"tickWidth":1.5,"domainWidth":1.5,"labelPadding":1}},"text":{"field":"t"}}}
    ]},
   {"width":177,"height":136,
    "transform":[{"filter":"datum.v < 175"}],
    "mark":{"type":"point"},
    "encoding":{
     "x":{"field":"n","type":"nominal","scale":{"type":"band","domain":["BFD 06","Msam 06","3D7"],"paddingInner":0,"paddingOuter":0},"axis":{"title":null,"labelAngle":0,"ticks":false,"domainWidth":2,"labelFontSize":8.5,"labelPadding":11}},
     "xOffset":{"field":"s","type":"nominal","scale":{"domain":["c3","c1","c0","c2","c4","t3","t1","t0","t2","t4"],"paddingInner":0,"paddingOuter":0.5}},
     "y":{"field":"v","type":"quantitative","scale":{"domain":[0,150],"nice":false},"axis":{"values":[0,50,100,150],"title":"GeoMFI","titleFontSize":8,"titleY":54,"titlePadding":2,"labelFontSize":7.5,"tickSize":3,"tickWidth":1.5,"domainWidth":1.5,"labelPadding":1}},
     "shape":{"field":"g","type":"nominal","scale":{"domain":["c","t"],"range":["circle","triangle-up"]},"legend":null},
     "size":{"field":"g","type":"ordinal","scale":{"domain":["c","t"],"range":[30,36]},"legend":null}
    }}
  ],
  "spacing":7,"bounds":"flush",
  "resolve":{"scale":{"x":"independent","y":"independent","xOffset":"independent"}}
 }
],
"spacing":35,
"resolve":{"scale":{"x":"independent","y":"independent","xOffset":"independent"}}
},
{"hconcat":[
 {"data":{"name":"B"},
  "transform":[
   {"window":[{"op":"row_number","as":"r"}],"groupby":["x","g"],"sort":[{"field":"v","order":"descending"}]},
   {"calculate":"datum.g + ((datum.r - 1) % 5)","as":"s"},
   {"lookup":"x","from":{"data":{"values":[{"x":1,"n":"SE50"},{"x":2,"n":"SE36"},{"x":3,"n":"CSP"},{"x":4,"n":"PfCelTOS"},{"x":5,"n":"MSP1₄₂ 3D7"},{"x":6,"n":"MSP1₄₂ FVO"},{"x":7,"n":"MSP1₄₂ FUP"}]},"key":"x","fields":["n"]}}
  ],
  "vconcat":[
   {"title":{"text":"B","dx":-32,"offset":-11.4},
    "width":399,"height":38,
    "layer":[
     {"transform":[{"filter":"datum.v >= 80"}],
      "mark":{"type":"point"},
      "encoding":{
       "x":{"field":"n","type":"nominal","scale":{"type":"band","domain":["SE50","SE36","CSP","PfCelTOS","MSP1₄₂ 3D7","MSP1₄₂ FVO","MSP1₄₂ FUP"],"paddingInner":0,"paddingOuter":0},"axis":null},
       "xOffset":{"field":"s","type":"nominal","scale":{"domain":["c3","c1","c0","c2","c4","t3","t1","t0","t2","t4"],"paddingInner":0,"paddingOuter":0.5}},
       "y":{"field":"v","type":"quantitative","scale":{"domain":[80,160],"nice":false,"zero":false},"axis":{"values":[80,100,120,140,160],"title":null,"labelFontSize":7,"tickSize":3,"tickWidth":1.5,"domainWidth":1.5,"labelPadding":1}},
       "shape":{"field":"g","type":"nominal","scale":{"domain":["c","t"],"range":["circle","triangle-up"]},"legend":null},
       "size":{"field":"g","type":"ordinal","scale":{"domain":["c","t"],"range":[34,40]},"legend":null}
      }},
     {"data":{"values":[{"n":"CSP","t":"****"},{"n":"PfCelTOS","t":"****"},{"n":"MSP1₄₂ 3D7","t":"****"},{"n":"MSP1₄₂ FUP","t":"***"}]},
      "mark":{"type":"text"},
      "encoding":{"x":{"field":"n","type":"nominal","axis":null},"y":{"datum":175,"type":"quantitative","axis":{"values":[80,100,120,140,160],"title":null,"labelFontSize":7,"tickSize":3,"tickWidth":1.5,"domainWidth":1.5,"labelPadding":1}},"text":{"field":"t"}}}
    ]},
   {"width":399,"height":150,
    "transform":[{"filter":"datum.v < 80"}],
    "mark":{"type":"point"},
    "encoding":{
     "x":{"field":"n","type":"nominal","scale":{"type":"band","domain":["SE50","SE36","CSP","PfCelTOS","MSP1₄₂ 3D7","MSP1₄₂ FVO","MSP1₄₂ FUP"],"paddingInner":0,"paddingOuter":0},"axis":{"title":null,"labelAngle":0,"ticks":false,"domainWidth":2,"labelFontSize":9,"labelPadding":6}},
     "xOffset":{"field":"s","type":"nominal","scale":{"domain":["c3","c1","c0","c2","c4","t3","t1","t0","t2","t4"],"paddingInner":0,"paddingOuter":0.5}},
     "y":{"field":"v","type":"quantitative","scale":{"domain":[0,80],"nice":false},"axis":{"values":[0,20,40,60,80],"title":"Fold over NAm","titleFontSize":10,"titleY":52,"titlePadding":3,"labelFontSize":9,"tickSize":3,"tickWidth":1.5,"domainWidth":1.5,"labelPadding":1}},
     "shape":{"field":"g","type":"nominal","scale":{"domain":["c","t"],"range":["circle","triangle-up"]},"legend":null},
     "size":{"field":"g","type":"ordinal","scale":{"domain":["c","t"],"range":[34,40]},"legend":null}
    }}
  ],
  "spacing":8,"bounds":"flush",
  "resolve":{"scale":{"x":"independent","y":"independent","xOffset":"independent"}}
 },
 {"data":{"name":"D"},
  "transform":[
   {"window":[{"op":"row_number","as":"r"}],"groupby":["x","g"],"sort":[{"field":"v","order":"descending"}]},
   {"calculate":"datum.g + ((datum.r - 1) % 5)","as":"s"},
   {"lookup":"x","from":{"data":{"values":[{"x":1,"n":"Sial Dep"},{"x":2,"n":"W2mef"},{"x":3,"n":"MSP1-19"},{"x":4,"n":"D10"}]},"key":"x","fields":["n"]}}
  ],
  "vconcat":[
   {"width":216,"height":1,
    "data":{"values":[{"k":1}]},
    "mark":{"type":"point","opacity":0,"size":1},
    "encoding":{}},
   {"title":{"text":"D","dx":-25,"offset":13.6},
    "width":216,"height":185,
    "mark":{"type":"point"},
    "encoding":{
     "x":{"field":"n","type":"nominal","scale":{"type":"band","domain":["Sial Dep","W2mef","MSP1-19","D10"],"paddingInner":0,"paddingOuter":0},"axis":{"title":null,"labelAngle":0,"ticks":false,"domainWidth":2,"labelFontSize":8,"labelPadding":6}},
     "xOffset":{"field":"s","type":"nominal","scale":{"domain":["c3","c1","c0","c2","c4","t3","t1","t0","t2","t4"],"paddingInner":0,"paddingOuter":0.5}},
     "y":{"field":"v","type":"quantitative","scale":{"domain":[0,80],"nice":false},"axis":{"values":[0,10,20,30,40,50,60,70,80],"title":"%Inhibition","titleFontSize":11,"titlePadding":1,"labelFontSize":9,"tickSize":3,"tickWidth":1.5,"domainWidth":1.5,"labelPadding":1}},
     "shape":{"field":"g","type":"nominal","scale":{"domain":["c","t"],"range":["circle","triangle-up"]},"legend":null},
     "size":{"field":"g","type":"ordinal","scale":{"domain":["c","t"],"range":[48,54]},"legend":null}
    }}
  ],
  "spacing":9.7,"bounds":"flush",
  "resolve":{"scale":{"x":"independent","y":"independent","xOffset":"independent"}}
 }
],
"spacing":21,
"resolve":{"scale":{"x":"independent","y":"independent","xOffset":"independent"}}
}
],
"spacing":13,
"resolve":{"scale":{"x":"independent","y":"independent","xOffset":"independent"}}
}
